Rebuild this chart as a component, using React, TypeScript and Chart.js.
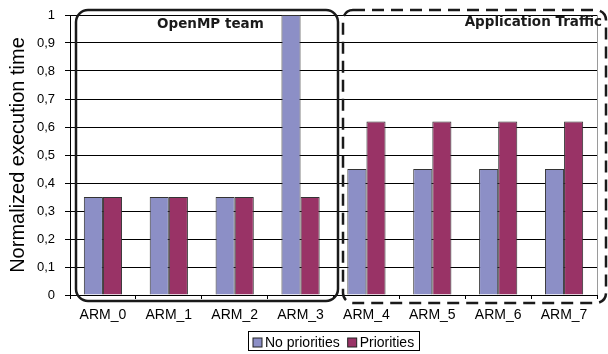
import React, { useEffect, useRef } from "react";
import { Chart, registerables } from "chart.js";

Chart.register(...registerables);

const categories = ["ARM_0", "ARM_1", "ARM_2", "ARM_3", "ARM_4", "ARM_5", "ARM_6", "ARM_7"];
const noPriorities = [0.35, 0.35, 0.35, 1.0, 0.45, 0.45, 0.45, 0.45];
const priorities = [0.35, 0.35, 0.35, 0.35, 0.62, 0.62, 0.62, 0.62];
const yTickLabels = ["0", "0,1", "0,2", "0,3", "0,4", "0,5", "0,6", "0,7", "0,8", "0,9", "1"];
const seriesNames = ["No priorities", "Priorities"];
const groupTitles = ["OpenMP team", "Application Traffic"];

const BLUE = "#8C8FC6";
const PURPLE = "#993366";
const AXIS_FONT = "'Liberation Sans', Arial, sans-serif";

const overlayPlugin = {
  id: "overlay",
  afterDraw(chart: any) {
    const ctx = chart.ctx as CanvasRenderingContext2D;
    const xs = chart.scales.x;
    const ca = chart.chartArea;
    ctx.save();

    // right border of plot area
    ctx.strokeStyle = "#9a9a9a";
    ctx.lineWidth = 1;
    ctx.beginPath();
    ctx.moveTo(Math.round(ca.right) + 0.5, ca.top);
    ctx.lineTo(Math.round(ca.right) + 0.5, ca.bottom);
    ctx.stroke();

    const half = (xs.getPixelForValue(1) - xs.getPixelForValue(0)) / 2;
    const boundary = xs.getPixelForValue(3) + half;

    // solid rounded box (OpenMP team)
    ctx.strokeStyle = "#1a1a1a";
    ctx.lineWidth = 2.5;
    ctx.setLineDash([]);
    ctx.beginPath();
    (ctx as any).roundRect(ca.left + 6, ca.top - 5, boundary + 4.5 - (ca.left + 6), ca.bottom + 6 - (ca.top - 5), 12);
    ctx.stroke();

    // dashed rounded box (Application Traffic)
    ctx.setLineDash([12, 7]);
    ctx.beginPath();
    const dl = boundary + 9.5;
    const dr = chart.width - 2;
    (ctx as any).roundRect(dl, ca.top - 5, dr - dl, ca.bottom + 8 - (ca.top - 5), 10);
    ctx.stroke();
    ctx.setLineDash([]);

    // group titles
    ctx.fillStyle = "#1a1a1a";
    ctx.font = "bold 13.5px 'DejaVu Sans', sans-serif";
    ctx.textBaseline = "alphabetic";
    ctx.textAlign = "left";
    ctx.fillText(groupTitles[0], ca.left + 87, ca.top + 13);
    ctx.textAlign = "right";
    ctx.fillText(groupTitles[1], chart.width - 6, ca.top + 11);

    // legend
    ctx.font = "14px " + AXIS_FONT;
    ctx.textAlign = "left";
    const colors = [BLUE, PURPLE];
    const sq = 9;
    const gapSq = 3;
    const gapItem = 8;
    const widths = seriesNames.map((n) => ctx.measureText(n).width);
    const inner = widths.reduce((a, w) => a + sq + gapSq + w, 0) + gapItem;
    const boxW = inner + 10;
    const boxH = 19;
    const cx = (ca.left + ca.right) / 2;
    const bx = Math.round(cx - boxW / 2) + 0.5;
    const by = 331.5;
    ctx.strokeStyle = "#000";
    ctx.lineWidth = 1;
    ctx.strokeRect(bx, by, Math.round(boxW), boxH);
    let x = bx + 4.5;
    seriesNames.forEach((n, i) => {
      ctx.fillStyle = colors[i];
      ctx.fillRect(x, by + 6.5, sq, sq);
      ctx.strokeStyle = "#222";
      ctx.strokeRect(x, by + 6.5, sq, sq);
      ctx.fillStyle = "#000";
      ctx.fillText(n, x + sq + gapSq, by + 15.5);
      x += sq + gapSq + widths[i] + gapItem;
    });

    ctx.restore();
  },
};

export default function App() {
  const ref = useRef<HTMLCanvasElement>(null);

  useEffect(() => {
    const canvas = ref.current!;
    const chart = new Chart(canvas, {
      type: "bar",
      data: {
        labels: categories,
        datasets: [
          {
            label: seriesNames[0],
            data: noPriorities,
            backgroundColor: BLUE,
            borderColor: "#333",
            borderWidth: 1,
          },
          {
            label: seriesNames[1],
            data: priorities,
            backgroundColor: PURPLE,
            borderColor: "#333",
            borderWidth: 1,
          },
        ],
      },
      options: {
        animation: false,
        responsive: false,
        maintainAspectRatio: false,
        layout: { padding: { top: 15, right: 11, left: 0, bottom: 0 } },
        datasets: { bar: { categoryPercentage: 0.58, barPercentage: 1 } },
        plugins: {
          legend: { display: false },
          tooltip: { enabled: false },
        },
        scales: {
          x: {
            grid: {
              offset: true,
              drawOnChartArea: false,
              drawTicks: true,
              tickLength: 4,
              color: "#000",
            },
            border: { display: true, color: "#000", width: 1 },
            ticks: {
              color: "#000",
              font: { family: AXIS_FONT, size: 14 },
              padding: 8,
              maxRotation: 0,
            },
            afterFit: (scale: any) => {
              scale.height = 59;
              scale.paddingLeft = 0;
              scale.paddingRight = 0;
            },
          },
          y: {
            min: 0,
            max: 1,
            grid: {
              color: "#000",
              drawTicks: true,
              tickLength: 5,
            },
            border: { display: true, color: "#000", width: 1 },
            ticks: {
              stepSize: 0.1,
              color: "#000",
              font: { family: AXIS_FONT, size: 13 },
              padding: 10,
              callback: (_v: any, i: number) => yTickLabels[i],
            },
            title: {
              display: true,
              text: "Normalized execution time",
              color: "#000",
              font: { family: AXIS_FONT, size: 20, lineHeight: 1.2 },
              padding: { top: 6, bottom: 0 },
            },
            afterFit: (scale: any) => {
              scale.width = 70;
              scale.paddingTop = 0;
              scale.paddingBottom = 0;
            },
          },
        },
      },
      plugins: [overlayPlugin],
    });
    return () => chart.destroy();
  }, []);

  return (
    <div style={{ position: "absolute", left: 0, top: 0, width: 608, height: 354, background: "#fff" }}>
      <canvas ref={ref} width={608} height={354} />
    </div>
  );
}
